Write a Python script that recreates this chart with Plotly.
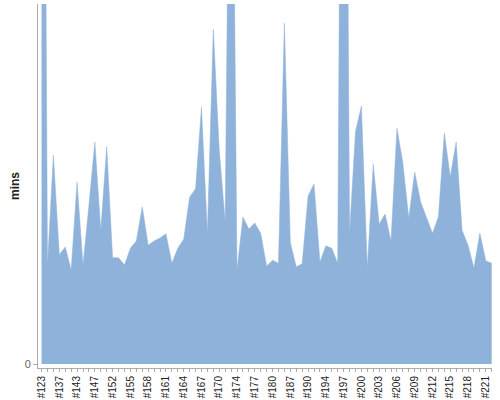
import plotly.graph_objects as go

# Build numbers (every third one is labelled on the axis)
builds = [
    "#123", "#128", "#133", "#137", "#139", "#141", "#143", "#145", "#146", "#147",
    "#149", "#150", "#152", "#153", "#154", "#155", "#156", "#157", "#158", "#159",
    "#160", "#161", "#162", "#163", "#164", "#165", "#166", "#167", "#168", "#169",
    "#170", "#171", "#172", "#174", "#175", "#176", "#177", "#178", "#179", "#180",
    "#182", "#185", "#187", "#188", "#189", "#190", "#191", "#193", "#194", "#195",
    "#196", "#197", "#198", "#199", "#200", "#201", "#202", "#203", "#204", "#205",
    "#206", "#207", "#208", "#209", "#210", "#211", "#212", "#213", "#214", "#215",
    "#216", "#217", "#218", "#219", "#220", "#221", "#222",
]

# Build duration in minutes
durations = [
    198, 16.5, 34.8, 18.2, 19.5, 15.7, 30.3, 16.5, 26.5, 37.0,
    22.3, 36.2, 17.7, 17.7, 16.5, 19.3, 20.5, 26.2, 19.8, 20.5,
    21.0, 21.7, 16.8, 19.3, 20.8, 27.8, 29.2, 42.8, 21.8, 55.8,
    35.7, 23.7, 125, 15.7, 24.5, 22.5, 23.5, 21.8, 16.3, 17.3,
    16.8, 56.8, 20.2, 16.2, 16.7, 28.0, 30.0, 17.0, 19.7, 19.3,
    16.8, 183, 21.8, 38.7, 43.0, 16.0, 33.3, 23.3, 25.0, 20.5,
    39.3, 33.5, 24.3, 32.0, 27.0, 24.3, 21.8, 24.5, 38.5, 31.2,
    37.0, 22.3, 19.8, 16.0, 21.8, 17.2, 16.8,
]

tick_text = [b if i % 3 == 0 else "" for i, b in enumerate(builds)]

fig = go.Figure()

fig.add_trace(go.Scatter(
    x=builds,
    y=durations,
    mode="lines",
    fill="tozeroy",
    fillcolor="rgb(143,178,219)",
    line=dict(color="rgb(143,178,219)", width=0.5),
    hoverinfo="x+y",
))

fig.update_layout(
    width=500,
    height=400,
    margin=dict(l=38, r=8, t=4, b=32, autoexpand=False),
    paper_bgcolor="white",
    plot_bgcolor="white",
    showlegend=False,
    font=dict(family="Liberation Sans, Arial, sans-serif", size=10, color="#222"),
    xaxis=dict(
        type="category",
        automargin=False,
        range=[-0.6, 76.05],
        tickmode="array",
        tickvals=builds,
        ticktext=tick_text,
        tickangle=-90,
        ticks="outside",
        ticklen=3,
        tickcolor="#aaa",
        showline=True,
        linecolor="#aaa",
        linewidth=1,
        showgrid=False,
        zeroline=False,
        tickfont=dict(size=10, color="#222"),
    ),
    yaxis=dict(
        automargin=False,
        range=[-0.667, 60],
        tickmode="array",
        tickvals=[0],
        ticks="outside",
        ticklen=4,
        tickcolor="#aaa",
        showline=True,
        linecolor="#aaa",
        linewidth=1,
        showgrid=False,
        zeroline=False,
        tickfont=dict(size=11, color="#666"),
        title=dict(text="<b>mins</b>", font=dict(size=12, color="#222"), standoff=2),
    ),
)

# the page body has a default 8px margin; remove it so the figure sits at 0,0
fig.write_html(
    "out.html",
    config={"displayModeBar": False},
    post_script="document.body.style.margin='0';",
)
